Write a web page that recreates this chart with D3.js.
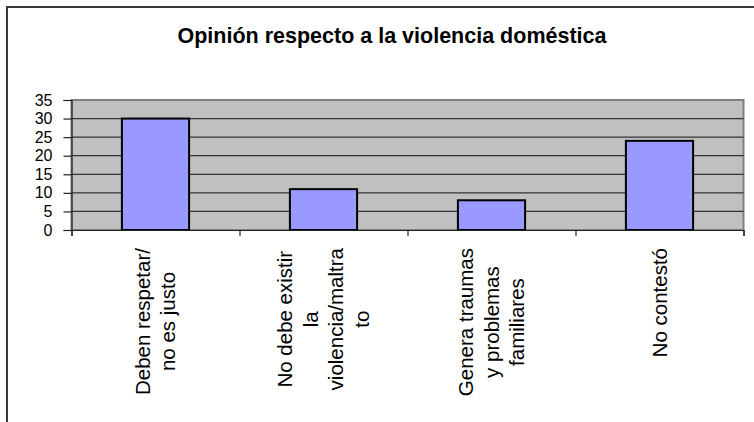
<!DOCTYPE html>
<html>
<head>
<meta charset="utf-8">
<script src="https://cdn.jsdelivr.net/npm/d3@7"></script>
<style>
  body { margin: 0; background: #fff; }
  text { font-family: "Liberation Sans", Arial, sans-serif; }
</style>
</head>
<body>
<div id="chart-container"></div>
<script>
// data
const categories = ["Deben respetar/ no es justo", "No debe existir la violencia/maltrato", "Genera traumas y problemas familiares", "No contestó"];
const categoryLines = [
  ["Deben respetar/", "no es justo"],
  ["No debe existir", "la", "violencia/maltra", "to"],
  ["Genera traumas", "y problemas", "familiares"],
  ["No contestó"]
];
const values = [30, 11, 8, 24];
const yTicks = [0, 5, 10, 15, 20, 25, 30, 35];
const title = "Opinión respecto a la violencia doméstica";

// dimensions
const W = 754, H = 422;
const plot = {left: 71.5, right: 743.5, top: 100, bottom: 230};

const svg = d3.select("#chart-container")
  .append("svg")
  .attr("width", W)
  .attr("height", H);

svg.append("rect")
  .attr("width", W)
  .attr("height", H)
  .attr("fill", "#fff");

// outer chart frame (only left and top edges visible in the crop)
svg.append("path")
  .attr("d", `M7,${H} V7 H${W}`)
  .attr("fill", "none")
  .attr("stroke", "#3a3a3a")
  .attr("stroke-width", 2);

// scales
const x = d3.scaleBand()
  .domain(categories)
  .range([plot.left, plot.right])
  .padding(0);

const xEdge = d3.scaleLinear()
  .domain([0, categories.length])
  .range([plot.left, plot.right]);

const y = d3.scaleLinear()
  .domain([0, 35])
  .range([plot.bottom, plot.top]);

// plot area background
svg.append("rect")
  .attr("x", plot.left)
  .attr("y", plot.top)
  .attr("width", plot.right - plot.left)
  .attr("height", plot.bottom - plot.top)
  .attr("fill", "#c0c0c0")
  .attr("stroke", "#808080")
  .attr("stroke-width", 2);

// horizontal gridlines
svg.selectAll(".grid")
  .data(yTicks.slice(1, -1))
  .join("line")
  .attr("class", "grid")
  .attr("x1", plot.left)
  .attr("x2", plot.right)
  .attr("y1", d => y(d))
  .attr("y2", d => y(d))
  .attr("stroke", "#333")
  .attr("stroke-width", 1.3);

// bars
const barW = x.bandwidth() * 0.4;
svg.selectAll(".bar")
  .data(values)
  .join("rect")
  .attr("class", "bar")
  .attr("x", (d, i) => x(categories[i]) + (x.bandwidth() - barW) / 2)
  .attr("y", d => y(d))
  .attr("width", barW)
  .attr("height", d => y(0) - y(d))
  .attr("fill", "#9999ff")
  .attr("stroke", "#000")
  .attr("stroke-width", 2);

// y axis
svg.append("g")
  .attr("transform", `translate(${plot.left},0)`)
  .call(d3.axisLeft(y)
    .tickValues(yTicks)
    .tickSize(8)
    .tickPadding(11))
  .call(g => g.select(".domain").attr("stroke", "#222").attr("stroke-width", 1.2))
  .call(g => g.selectAll(".tick line").attr("stroke", "#222").attr("stroke-width", 1.2))
  .selectAll(".tick text")
  .style("font-size", "16px")
  .style("fill", "#000");

// x axis, ticks on category boundaries
svg.append("g")
  .attr("transform", `translate(0,${plot.bottom})`)
  .call(d3.axisBottom(xEdge)
    .tickValues(d3.range(categories.length + 1))
    .tickFormat("")
    .tickSize(6))
  .call(g => g.select(".domain").attr("stroke", "#222").attr("stroke-width", 1.2))
  .call(g => g.selectAll(".tick line").attr("stroke", "#222").attr("stroke-width", 1.2));

// category labels, rotated, lines centered on the longest one
const lineH = 25.5;
const labelTop = 248;
categoryLines.forEach((lines, i) => {
  const cx = x(categories[i]) + x.bandwidth() / 2;
  const g = svg.append("g")
    .attr("transform", `translate(${cx},${labelTop}) rotate(-90)`);
  const texts = g.selectAll("text")
    .data(lines)
    .join("text")
    .attr("y", (d, j) => (j - (lines.length - 1) / 2) * lineH)
    .attr("dy", "0.35em")
    .attr("text-anchor", "middle")
    .style("font-size", "20.5px")
    .style("fill", "#000")
    .text(d => d);
  const L = d3.max(texts.nodes(), n => n.getComputedTextLength());
  texts.attr("x", -L / 2);
});

// chart title
svg.append("text")
  .attr("x", 392)
  .attr("y", 43)
  .attr("text-anchor", "middle")
  .style("font-size", "21.5px")
  .style("font-weight", "bold")
  .style("fill", "#000")
  .text(title);
</script>
</body>
</html>
